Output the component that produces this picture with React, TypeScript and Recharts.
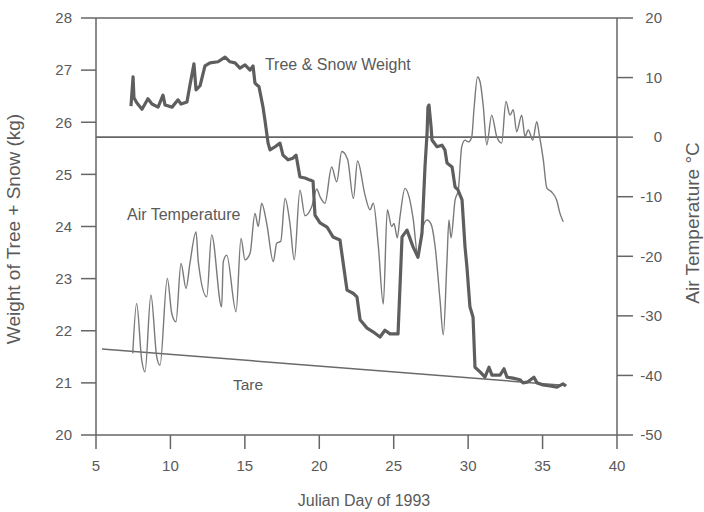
import React from 'react';
import { LineChart, Line, XAxis, YAxis, ReferenceLine, ReferenceDot, Label } from 'recharts';

// Tree + snow weight (kg), thick line
const weightDays = [
  7.35, 7.49, 7.55, 7.75, 8.09, 8.49, 8.76, 9.17, 9.5, 9.64,
  10.11, 10.51, 10.71, 11.11, 11.31, 11.58, 11.72, 11.99, 12.32, 12.66,
  13.2, 13.67, 14.0, 14.34, 14.67, 15.01, 15.35, 15.55, 15.68, 15.95,
  16.22, 16.35, 16.56, 16.69, 17.03, 17.36, 17.56, 17.9, 18.23, 18.44,
  18.7, 19.04, 19.38, 19.58, 19.71, 20.05, 20.52, 20.92, 21.39, 21.86,
  22.27, 22.53, 22.74, 23.21, 23.61, 24.08, 24.41, 24.75, 25.29, 25.56,
  25.89, 26.3, 26.63, 26.9, 27.1, 27.24, 27.3, 27.37, 27.51, 27.57,
  27.91, 28.24, 28.44, 28.58, 28.92, 28.98, 29.12, 29.32, 29.59, 29.79,
  29.92, 30.12, 30.33, 30.46, 30.8, 31.13, 31.4, 31.6, 32.14, 32.41,
  32.61, 33.01, 33.48, 33.69, 34.02, 34.42, 34.63, 35.03, 35.5, 35.97,
  36.37, 36.57,
];
const weightKg = [
  26.31, 26.87, 26.47, 26.37, 26.25, 26.45, 26.35, 26.29, 26.52, 26.33,
  26.29, 26.43, 26.35, 26.39, 26.71, 27.12, 26.62, 26.7, 27.08, 27.14,
  27.16, 27.25, 27.16, 27.14, 27.04, 27.1, 27.0, 27.08, 26.75, 26.68,
  26.29, 26.04, 25.6, 25.47, 25.53, 25.6, 25.37, 25.28, 25.31, 25.37,
  24.95, 24.93, 24.89, 24.87, 24.22, 24.07, 23.99, 23.8, 23.74, 22.78,
  22.72, 22.65, 22.21, 22.05, 21.98, 21.88, 22.01, 21.94, 21.94, 23.8,
  23.93, 23.61, 23.41, 23.87, 25.14, 25.79, 26.29, 26.33, 25.91, 25.66,
  25.53, 25.56, 25.47, 25.22, 25.14, 25.03, 24.76, 24.7, 24.51, 23.61,
  23.22, 22.46, 22.26, 21.3, 21.21, 21.11, 21.3, 21.15, 21.15, 21.27,
  21.11, 21.09, 21.06, 21.0, 21.02, 21.11, 21.0, 20.96, 20.94, 20.92,
  20.98, 20.94,
];

// Air temperature (°C), thin line
const tempDays = [
  7.47, 7.73, 8.07, 8.29, 8.69, 9.08, 9.3, 9.79, 10.09, 10.37,
  10.71, 11.05, 11.31, 11.72, 11.87, 12.44, 12.77, 13.44, 13.55, 13.78,
  14.41, 14.74, 15.01, 15.35, 15.68, 15.9, 16.13, 16.47, 16.91, 17.14,
  17.41, 17.7, 18.03, 18.32, 18.7, 19.04, 19.49, 19.83, 20.05, 20.38,
  20.83, 21.17, 21.51, 21.9, 22.29, 22.57, 23.07, 23.41, 23.63, 23.97,
  24.3, 24.57, 24.86, 25.02, 25.24, 25.42, 25.76, 26.05, 26.3, 26.63,
  26.9, 27.24, 27.51, 27.77, 28.11, 28.33, 28.58, 28.71, 28.85, 29.12,
  29.34, 29.57, 29.79, 30.01, 30.24, 30.39, 30.63, 30.8, 31.02, 31.25,
  31.58, 31.92, 32.25, 32.54, 32.81, 33.03, 33.26, 33.6, 33.82, 34.04,
  34.34, 34.61, 34.78, 35.05, 35.28, 35.61, 35.95, 36.17, 36.39,
];
const tempC = [
  -36.3, -27.9, -37.4, -39.4, -26.5, -36.9, -38.3, -23.7, -29.6, -31.0,
  -21.2, -25.4, -21.2, -15.9, -20.9, -26.8, -16.4, -28.5, -20.9, -19.8,
  -29.3, -17.0, -20.6, -19.5, -12.8, -15.0, -11.1, -14.5, -20.9, -17.8,
  -17.5, -10.3, -14.5, -20.6, -8.9, -13.2, -11.7, -8.7, -10.0, -11.1,
  -5.0, -7.5, -2.4, -3.7, -10.3, -4.0, -9.7, -12.2, -11.1, -18.4,
  -28.0, -12.2, -15.0, -14.5, -16.9, -13.4, -8.6, -10.2, -13.6, -20.0,
  -15.6, -13.9, -14.6, -18.1, -27.3, -33.2, -20.6, -13.9, -16.9, -10.6,
  -8.9, -1.6, -0.5, -0.8, 0.0, 4.6, 10.1, 9.3, 5.1, -1.3,
  3.7, 0.1, -1.0, 6.0, 3.7, 4.6, 0.9, 3.7, 0.1, 1.2,
  -0.5, 2.6, 0.4, -3.8, -8.5, -9.2, -10.6, -12.8, -14.2,
];

// Tare line (kg)
const tareDays = [5.4, 36.6];
const tareKg = [21.65, 20.95];

// Axis ticks
const dayTicks = [5, 10, 15, 20, 25, 30, 35, 40];
const weightTicks = [20, 21, 22, 23, 24, 25, 26, 27, 28];
const tempTicks = [-50, -40, -30, -20, -10, 0, 10, 20];

const weightData = weightDays.map((d, i) => ({ day: d, w: weightKg[i] }));
const tempData = tempDays.map((d, i) => ({ day: d, t: tempC[i] }));
const tareData = tareDays.map((d, i) => ({ day: d, w: tareKg[i] }));

const FONT = '"Liberation Sans", Arial, Helvetica, sans-serif';
const TEXT = '#5a5a5a';
const AXIS = '#666666';

function RightTick(props: any) {
  const { x, y, payload } = props;
  return (
    <text x={x + 22} y={y} dy="0.355em" textAnchor="end" fontSize={15} fill={TEXT} fontFamily={FONT}>
      {payload.value}
    </text>
  );
}

function textShape(label: string, size: number) {
  return (p: any) => (
    <text x={p.cx} y={p.cy} fontSize={size} fill={TEXT} fontFamily={FONT} textAnchor="start">
      {label}
    </text>
  );
}

export default function App() {
  const tickStyle = { fontSize: 15, fill: TEXT, fontFamily: FONT };
  const axisLine = { stroke: AXIS, strokeWidth: 1.5 };
  return (
    <div style={{ position: 'fixed', left: 0, top: 0, width: 704, height: 512, background: '#ffffff' }}>
      <LineChart width={704} height={512} margin={{ top: 18, right: 0, bottom: 0, left: 0 }}>
        <XAxis
          type="number"
          dataKey="day"
          domain={[5, 40]}
          ticks={dayTicks}
          allowDataOverflow
          height={77}
          tickSize={14}
          tickMargin={11}
          tick={tickStyle}
          axisLine={axisLine}
          tickLine={axisLine}
        >
          <Label
            content={(p: any) => {
              const vb = p.viewBox;
              return (
                <text x={vb.x + vb.width / 2 + 7.5} y={vb.y + 71} textAnchor="middle" fontSize={16} fill={TEXT} fontFamily={FONT}>
                  Julian Day of 1993
                </text>
              );
            }}
          />
        </XAxis>
        <YAxis
          yAxisId="w"
          orientation="left"
          domain={[20, 28]}
          ticks={weightTicks}
          allowDataOverflow
          width={96}
          tickSize={15}
          tickMargin={9}
          tick={tickStyle}
          axisLine={axisLine}
          tickLine={axisLine}
        >
          <Label
            content={(p: any) => {
              const vb = p.viewBox;
              const x = vb.x + 20;
              const y = vb.y + vb.height / 2 + 2.5;
              return (
                <text x={x} y={y} transform={`rotate(-90, ${x}, ${y})`} textAnchor="middle" fontSize={19} fill={TEXT} fontFamily={FONT}>
                  Weight of Tree + Snow (kg)
                </text>
              );
            }}
          />
        </YAxis>
        <YAxis
          yAxisId="t"
          orientation="right"
          domain={[-50, 20]}
          ticks={tempTicks}
          allowDataOverflow
          width={87}
          tickSize={16}
          tickMargin={7}
          tick={<RightTick />}
          axisLine={axisLine}
          tickLine={axisLine}
        >
          <Label
            content={(p: any) => {
              const vb = p.viewBox;
              const x = vb.x + 82;
              const y = vb.y + vb.height / 2 - 3.5;
              return (
                <text x={x} y={y} transform={`rotate(-90, ${x}, ${y})`} textAnchor="middle" fontSize={19} fill={TEXT} fontFamily={FONT}>
                  Air Temperature °C
                </text>
              );
            }}
          />
        </YAxis>

        <ReferenceLine yAxisId="w" y={28} stroke={AXIS} strokeWidth={1.5} />
        <ReferenceLine yAxisId="t" y={0} stroke={AXIS} strokeWidth={1.8} />

        <Line
          yAxisId="w"
          data={tareData}
          dataKey="w"
          type="linear"
          stroke="#6a6a6a"
          strokeWidth={1.5}
          dot={false}
          isAnimationActive={false}
        />
        <Line
          yAxisId="t"
          data={tempData}
          dataKey="t"
          type="monotone"
          stroke="#7a7a7a"
          strokeWidth={1.4}
          dot={false}
          isAnimationActive={false}
        />
        <Line
          yAxisId="w"
          data={weightData}
          dataKey="w"
          type="linear"
          stroke="#5e5e5e"
          strokeWidth={3.2}
          strokeLinejoin="round"
          dot={false}
          isAnimationActive={false}
        />

        <ReferenceDot yAxisId="w" x={16.35} y={27.0} r={0} shape={textShape('Tree & Snow Weight', 16)} />
        <ReferenceDot yAxisId="w" x={7.08} y={24.12} r={0} shape={textShape('Air Temperature', 16)} />
        <ReferenceDot yAxisId="w" x={14.2} y={20.86} r={0} shape={textShape('Tare', 15.5)} />
      </LineChart>
    </div>
  );
}
